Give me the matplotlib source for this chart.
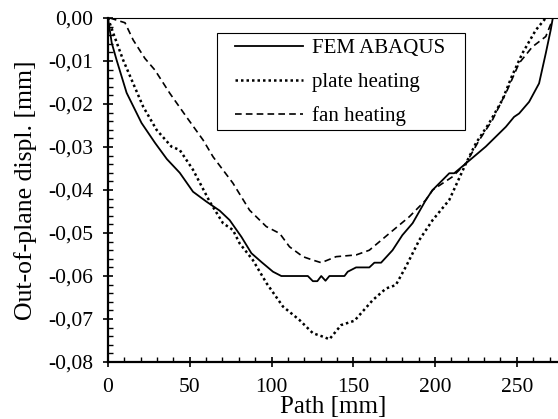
import matplotlib
matplotlib.use("Agg")
import matplotlib.pyplot as plt
from matplotlib.patches import Rectangle
from matplotlib.ticker import MultipleLocator, FuncFormatter

plt.rcParams['font.family'] = ['Liberation Serif', 'DejaVu Serif']

# FEM ABAQUS (solid)
fem_x = [0, 2.3, 5.3, 11.4, 20.5, 28.7, 36, 43.9, 52, 60.2, 68.3, 74.4, 81.6, 87.7,
         94, 100.9, 106, 122.2, 125.3, 128, 130.4, 133, 135.4, 144.6, 146.6, 151.7,
         159.8, 162.9, 167, 174, 180, 186.3, 194.4, 198.5, 208.7, 211.7, 218.9, 231,
         243.3, 248.3, 251.4, 257.5, 263.6, 267.7, 270.7, 272]
fem_y = [0, -0.0058, -0.0098, -0.0174, -0.0244, -0.029, -0.0328, -0.036, -0.0404,
         -0.0427, -0.0448, -0.047, -0.0509, -0.0547, -0.0568, -0.059, -0.060, -0.060,
         -0.0612, -0.0612, -0.060, -0.0611, -0.060, -0.060, -0.059, -0.058, -0.058,
         -0.0569, -0.0569, -0.054, -0.0505, -0.0477, -0.0423, -0.040, -0.0361, -0.0361,
         -0.0338, -0.0299, -0.0253, -0.023, -0.0222, -0.0195, -0.0152, -0.0082, -0.0028, 0]

# plate heating (dotted)
plate_x = [0, 3.3, 9.3, 15.4, 21.5, 29.7, 38.8, 43.9, 52, 62.2, 70.3, 76.4, 80.5, 88.6,
           97, 107, 117, 125.3, 131.4, 135.4, 142.6, 150.7, 161.9, 170, 176, 182.2,
           190.4, 198.5, 208.7, 218.9, 225, 233, 241.2, 247, 253.4, 261.6, 267.7]
plate_y = [0, -0.0036, -0.0098, -0.0152, -0.0206, -0.026, -0.0299, -0.0307, -0.0353,
           -0.0427, -0.0477, -0.0493, -0.0524, -0.0563, -0.0617, -0.0671, -0.0702,
           -0.0733, -0.0741, -0.0747, -0.0714, -0.0704, -0.0656, -0.0629, -0.0621,
           -0.0578, -0.0516, -0.047, -0.0423, -0.0338, -0.0291, -0.0245, -0.019,
           -0.0135, -0.0082, -0.0028, 0]

# fan heating (dashed)
fan_x = [1.2, 10.4, 15.4, 22.6, 28.7, 37.8, 48, 58.2, 64.3, 76.4, 86.6, 96.8, 105,
         111, 119.2, 125.3, 130.4, 139.5, 151.7, 159.8, 172, 184.3, 194.4, 198.5,
         210.7, 218.9, 227, 235.1, 241.2, 243.3, 251.4, 259.5, 267.7, 271.7]
fan_y = [0, -0.0011, -0.0051, -0.0094, -0.0121, -0.0175, -0.023, -0.0284, -0.0323,
         -0.0384, -0.0447, -0.0485, -0.0501, -0.0532, -0.0555, -0.0563, -0.0569,
         -0.0555, -0.0551, -0.054, -0.0501, -0.0462, -0.0423, -0.040, -0.0369,
         -0.0338, -0.0284, -0.0237, -0.019, -0.0175, -0.0105, -0.0067, -0.0043, -0.0005]

fig = plt.figure(figsize=(5.58, 4.19), dpi=100)
ax = fig.add_axes([0.1935, 0.136, 0.806, 0.821])

ax.plot(fem_x, fem_y, color='black', lw=1.3, linestyle='-', label='FEM ABAQUS')
ax.plot(plate_x, plate_y, color='black', lw=1.8, linestyle=(0, (1, 1.2)), label='plate heating')
ax.plot(fan_x, fan_y, color='black', lw=1.2, linestyle=(0, (4, 2.5)), label='fan heating')

ax.set_xlim(0, 275)
ax.set_ylim(-0.08, 0)
ax.xaxis.set_major_locator(MultipleLocator(50))
ax.xaxis.set_minor_locator(MultipleLocator(10))
ax.yaxis.set_major_locator(MultipleLocator(0.01))
ax.yaxis.set_minor_locator(MultipleLocator(0.002))
ax.yaxis.set_major_formatter(FuncFormatter(lambda v, p: f"{v:.2f}".replace('.', ',').replace('-0,00', '0,00')))

ax.tick_params(which='major', direction='inout', length=7, width=1.2, labelsize=15.5)
ax.tick_params(which='minor', direction='in', length=3.5, width=1.0)
ax.tick_params(axis='x', which='major', pad=8)
ax.tick_params(axis='y', which='major', pad=7)

for s in ['left', 'bottom']:
    ax.spines[s].set_linewidth(1.6)
ax.spines['right'].set_visible(False)
ax.spines['top'].set_linewidth(0.8)

ax.set_xlabel('Path [mm]', fontsize=18, labelpad=-1)
ax.set_ylabel('Out-of-plane displ. [mm]', fontsize=18.5, labelpad=8)

# legend frame drawn separately so the side padding matches the original
ax.add_patch(Rectangle((0.242, 0.674), 0.551, 0.282, transform=ax.transAxes,
                       fill=False, edgecolor='black', lw=0.8, zorder=4))
leg = ax.legend(loc='upper left', bbox_to_anchor=(0.282, 0.941), fontsize=15,
                frameon=False, handlelength=3.27, handletextpad=0.42,
                labelspacing=0.69, borderaxespad=0, borderpad=0)

fig.savefig('out.png', dpi=100)
